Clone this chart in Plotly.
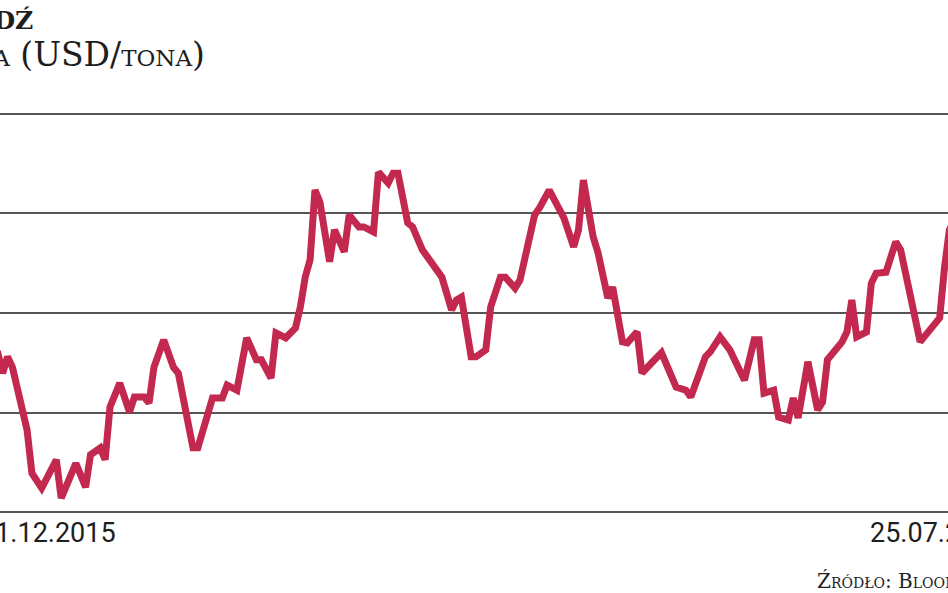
import plotly.graph_objects as go

# copper price, USD per tonne
dates = [
    "2015-12-31", "2016-01-02", "2016-01-03", "2016-01-04", "2016-01-05", "2016-01-07",
    "2016-01-08", "2016-01-09", "2016-01-11", "2016-01-14", "2016-01-15", "2016-01-18",
    "2016-01-20", "2016-01-21", "2016-01-23", "2016-01-24", "2016-01-25", "2016-01-27",
    "2016-01-29", "2016-01-30", "2016-02-01", "2016-02-02", "2016-02-03", "2016-02-05",
    "2016-02-07", "2016-02-08", "2016-02-11", "2016-02-12", "2016-02-15", "2016-02-17",
    "2016-02-18", "2016-02-20", "2016-02-22", "2016-02-24", "2016-02-25", "2016-02-27",
    "2016-02-28", "2016-03-01", "2016-03-03", "2016-03-04", "2016-03-05", "2016-03-06",
    "2016-03-07", "2016-03-08", "2016-03-10", "2016-03-11", "2016-03-13", "2016-03-14",
    "2016-03-16", "2016-03-17", "2016-03-19", "2016-03-20", "2016-03-22", "2016-03-23",
    "2016-03-24", "2016-03-26", "2016-03-27", "2016-03-29", "2016-03-30", "2016-04-01",
    "2016-04-02", "2016-04-04", "2016-04-05", "2016-04-06", "2016-04-08", "2016-04-09",
    "2016-04-11", "2016-04-12", "2016-04-14", "2016-04-15", "2016-04-17", "2016-04-18",
    "2016-04-20", "2016-04-21", "2016-04-22", "2016-04-24", "2016-04-27", "2016-04-29",
    "2016-04-30", "2016-05-01", "2016-05-03", "2016-05-04", "2016-05-06", "2016-05-07",
    "2016-05-09", "2016-05-10", "2016-05-12", "2016-05-13", "2016-05-15", "2016-05-17",
    "2016-05-20", "2016-05-22", "2016-05-23", "2016-05-26", "2016-05-27", "2016-05-29",
    "2016-05-31", "2016-06-03", "2016-06-05", "2016-06-06", "2016-06-07", "2016-06-09",
    "2016-06-10", "2016-06-12", "2016-06-13", "2016-06-14", "2016-06-16", "2016-06-18",
    "2016-06-19", "2016-06-20", "2016-06-23", "2016-06-24", "2016-06-25", "2016-06-26",
    "2016-06-28", "2016-06-29", "2016-06-30", "2016-07-02", "2016-07-04", "2016-07-05",
    "2016-07-09", "2016-07-11", "2016-07-13", "2016-07-14", "2016-07-15", "2016-07-17",
    "2016-07-21", "2016-07-25",
]
prices = [
    4636, 4620, 4579, 4612, 4591, 4505,
    4465, 4378, 4348, 4405, 4328, 4398,
    4350, 4415, 4429, 4405, 4511, 4559,
    4501, 4531, 4531, 4519, 4591, 4646,
    4591, 4579, 4429, 4429, 4529, 4529,
    4555, 4545, 4650, 4606, 4606, 4569,
    4660, 4650, 4670, 4712, 4772, 4807,
    4947, 4923, 4803, 4867, 4823, 4897,
    4873, 4873, 4863, 4983, 4961, 4981,
    4981, 4881, 4873, 4827, 4813, 4786,
    4772, 4706, 4726, 4732, 4612, 4612,
    4626, 4712, 4772, 4772, 4750, 4766,
    4863, 4897, 4911, 4947, 4891, 4833,
    4867, 4967, 4853, 4821, 4730, 4752,
    4642, 4640, 4662, 4579, 4600, 4620,
    4551, 4545, 4531, 4612, 4622, 4652,
    4626, 4565, 4646, 4646, 4539, 4545,
    4491, 4485, 4529, 4489, 4602, 4505,
    4521, 4606, 4642, 4662, 4726, 4652,
    4662, 4760, 4780, 4782, 4843, 4827,
    4642, 4666, 4690, 4792, 4867, 4905,
    4880, 4870,
]
grid_levels = [4300, 4500, 4700, 4900, 5100]

title = "Miedź"
subtitle = "Cena (USD/tona)"
start_label = "31.12.2015"
end_label = "25.07.2016"
source = "Źródło: Bloomberg"

RED = "#c3284f"
INK = "#1e1e1e"

fig = go.Figure(go.Scatter(
    x=dates, y=prices, mode="lines",
    line=dict(color=RED, width=7, shape="linear"),
    hoverinfo="skip",
))

fig.update_layout(
    width=948, height=593,
    margin=dict(l=0, r=0, t=104, b=71),
    paper_bgcolor="white", plot_bgcolor="white",
    showlegend=False,
)
fig.update_xaxes(
    type="date",
    range=["2016-01-02 11:00", "2016-07-14 17:00"],
    showgrid=False, showticklabels=False, zeroline=False, showline=False,
)
fig.update_yaxes(
    range=[4280, 5120],
    tickvals=grid_levels, showticklabels=False,
    showgrid=True, gridcolor="#555555", gridwidth=2,
    zeroline=False, showline=False,
)

serif = "DejaVu Serif"
fig.add_annotation(text="<b>" + title.upper() + "</b>", xref="paper", yref="paper",
                   x=35 / 948, y=1.2, xanchor="right", yanchor="middle", showarrow=False,
                   font=dict(family=serif, size=25, color=INK))
fig.add_annotation(text=subtitle, xref="paper", yref="paper",
                   x=207 / 948, y=1.118, xanchor="right", yanchor="middle", showarrow=False,
                   font=dict(family=serif, size=33, color=INK, variant="small-caps"))
fig.add_annotation(text=start_label, xref="paper", yref="paper",
                   x=118 / 948, y=-0.026, xanchor="right", yanchor="middle", showarrow=False,
                   font=dict(family="Roboto", size=27, color=INK))
fig.add_annotation(text=end_label, xref="paper", yref="paper",
                   x=868 / 948, y=-0.026, xanchor="left", yanchor="middle", showarrow=False,
                   font=dict(family="Roboto", size=27, color=INK))
fig.add_annotation(text=source, xref="paper", yref="paper",
                   x=815 / 948, y=-0.14, xanchor="left", yanchor="middle", showarrow=False,
                   font=dict(family=serif, size=20, color=INK, variant="small-caps"))

fig.write_html("out.html", config={"displayModeBar": False},
               post_script="document.body.style.margin='0';")
